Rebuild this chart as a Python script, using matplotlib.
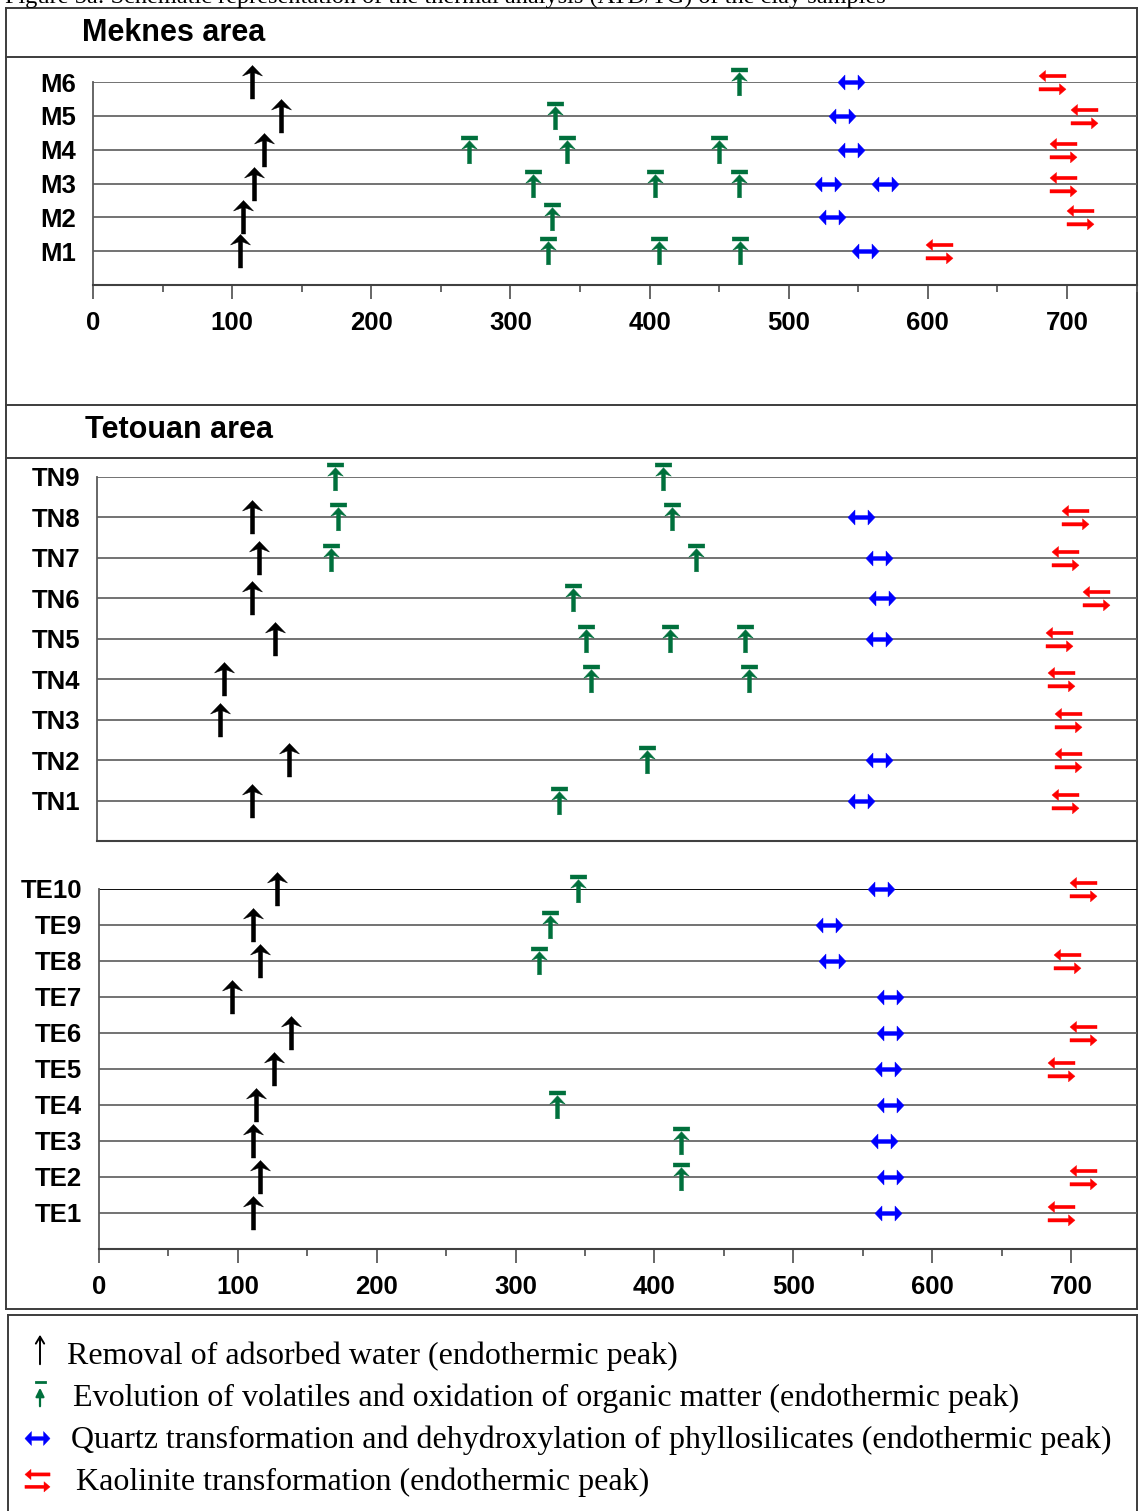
import numpy as np
import matplotlib.pyplot as plt
from matplotlib.path import Path
from matplotlib.ticker import MultipleLocator

W, H = 1139, 1511
DPI = 100

# DTA/TG peak temperatures (deg C) per sample, one list per peak type
meknes_samples = ['M1', 'M2', 'M3', 'M4', 'M5', 'M6']
meknes_water = [[106], [108], [116], [123], [135], [114]]
meknes_volatiles = [[327, 407, 465], [330], [316, 404, 464], [270, 341, 450], [332], [464]]
meknes_quartz = [[555], [531], [528, 569], [545], [538], [545]]
meknes_kaolinite = [[608], [709], [697], [697], [712], [689]]

tn_samples = ['TN1', 'TN2', 'TN3', 'TN4', 'TN5', 'TN6', 'TN7', 'TN8', 'TN9']
tn_water = [[110], [137], [87], [90], [127], [110], [115], [110], []]
tn_volatiles = [[331], [395], [], [354, 468], [351, 411, 465], [341], [167, 430], [172, 413], [170, 406]]
tn_quartz = [[549], [562], [], [], [562], [564], [562], [549], []]
tn_kaolinite = [[696], [698], [698], [693], [691], [718], [696], [703], []]

te_samples = ['TE1', 'TE2', 'TE3', 'TE4', 'TE5', 'TE6', 'TE7', 'TE8', 'TE9', 'TE10']
te_water = [[111], [116], [111], [113], [126], [138], [96], [116], [111], [128]]
te_volatiles = [[], [419], [419], [330], [], [], [], [317], [325], [345]]
te_quartz = [[568], [570], [565], [570], [568], [570], [570], [528], [526], [563]]
te_kaolinite = [[693], [709], [], [], [693], [709], [], [697], [], [709]]

legend_labels = [
    'Removal of adsorbed water (endothermic peak)',
    'Evolution of volatiles and oxidation of organic matter (endothermic peak)',
    'Quartz transformation and dehydroxylation of phyllosilicates (endothermic peak)',
    'Kaolinite transformation (endothermic peak)',
]

GREEN = '#00703c'
BLUE = '#0000ff'
RED = '#ff0000'
LINE = '#5a5a5a'
SANS = 'Liberation Sans'
SERIF = 'Liberation Serif'


def poly_path(*polys):
    verts, codes = [], []
    for p in polys:
        verts += list(p) + [p[0]]
        codes += [Path.MOVETO] + [Path.LINETO] * (len(p) - 1) + [Path.CLOSEPOLY]
    return Path(verts, codes)


# marker outlines in pixel units, origin on the sample line
water_path = poly_path([(0, 17), (10, 6.5), (2.1, 9.5), (2.1, -16.5), (-2.1, -16.5), (-2.1, 9.5), (-10, 6.5)])
volatile_path = poly_path(
    [(-8.3, 14.5), (8.3, 14.5), (8.3, 10.5), (-8.3, 10.5)],
    [(0, 9.8), (7.8, 1.3), (2, 3.3), (2, -13.3), (-2, -13.3), (-2, 3.3), (-7.8, 1.3)])
quartz_path = poly_path([(-13.5, 0), (-6.5, 7.5), (-6.5, 2), (6.5, 2), (6.5, 7.5), (13.5, 0),
                         (6.5, -7.5), (6.5, -2), (-6.5, -2), (-6.5, -7.5)])
kaolinite_path = poly_path(
    [(-13.5, 6.5), (-7, 12), (-7, 8.2), (13.5, 8.2), (13.5, 4.8), (-7, 4.8), (-7, 1)],
    [(13.5, -6.8), (7, -1.3), (7, -5.1), (-13.5, -5.1), (-13.5, -8.5), (7, -8.5), (7, -12.3)])


def ms_of(path, scale=1.0):
    # markersize in points so that the path keeps its pixel size
    return 2 * np.abs(path.vertices).max() * scale * 72 / DPI


MARKERS = [(water_path, 'black'), (volatile_path, GREEN), (quartz_path, BLUE), (kaolinite_path, RED)]


def px_axes(fig, left, top, right, bottom):
    return fig.add_axes([left / W, 1 - bottom / H, (right - left) / W, (bottom - top) / H])


def draw_panel(ax, samples, series, x0_px, scale, left_px, right_px, show_ticks):
    n = len(samples)
    rows = np.arange(1, n + 1)
    ax.set_xlim(-(x0_px - left_px) / scale, (right_px - x0_px) / scale)
    ax.set_ylim(0, n)
    ax.set_facecolor('none')
    for r in rows:
        ax.axhline(r, color=LINE, lw=1.2, zorder=1)
    for vals, (path, color) in zip(series, MARKERS):
        xs = [v for row in vals for v in row]
        ys = [r for r, row in zip(rows, vals) for _ in row]
        ax.plot(xs, ys, ls='none', marker=path, ms=ms_of(path), color=color,
                mec=color, mew=0.3, clip_on=False, zorder=3)
    ax.set_yticks(rows)
    ax.set_yticklabels(samples, fontsize=18.5, fontweight='bold', family=SANS)
    ax.tick_params(axis='y', length=0, pad=12)
    for s in ('top', 'right'):
        ax.spines[s].set_visible(False)
    ax.spines['left'].set_color(LINE)
    ax.spines['left'].set_linewidth(1.3)
    ax.spines['bottom'].set_color('#404040')
    ax.spines['bottom'].set_linewidth(1.5)
    if show_ticks:
        ax.xaxis.set_major_locator(MultipleLocator(100))
        ax.xaxis.set_minor_locator(MultipleLocator(50))
        ax.tick_params(axis='x', which='major', length=10, width=1.3, color=LINE,
                       pad=8.5, labelsize=18.5)
        ax.tick_params(axis='x', which='minor', length=5, width=1.3, color=LINE)
        ax.set_xticks([t for t in range(0, 701, 100)])
        for lab in ax.get_xticklabels():
            lab.set_fontweight('bold')
            lab.set_family(SANS)
    else:
        ax.set_xticks([])


fig = plt.figure(figsize=(W / DPI, H / DPI), dpi=DPI)

# frame, headers and legend drawn in pixel coordinates
bg = fig.add_axes([0, 0, 1, 1], zorder=0)
bg.set_xlim(0, W)
bg.set_ylim(H, 0)
bg.axis('off')

frame = dict(color='#3c3c3c', lw=1.4)
bg.plot([6, 1137], [8, 8], **frame)
bg.plot([6, 1137], [57, 57], **frame)
bg.plot([6, 1137], [405, 405], **frame)
bg.plot([6, 1137], [458, 458], **frame)
bg.plot([6, 1137], [1309, 1309], **frame)
bg.plot([6, 6], [8, 1309], **frame)
bg.plot([1137, 1137], [8, 1309], **frame)
bg.plot([8, 1137], [1315, 1315], **frame)
bg.plot([8, 8], [1315, 1511], **frame)
bg.plot([1137, 1137], [1315, 1511], **frame)

bg.text(5, 2.5, 'Figure 5a: Schematic representation of the thermal analysis (ATD/TG) of the clay samples',
        fontsize=17.5, family=SERIF, va='baseline', ha='left')
bg.text(82, 33, 'Meknes area', fontsize=22, fontweight='bold', family=SANS, va='center')
bg.text(85, 430, 'Tetouan area', fontsize=22, fontweight='bold', family=SANS, va='center')

# legend
bg.annotate('', xy=(40, 1332), xytext=(40, 1367),
            arrowprops=dict(arrowstyle='->,head_length=0.5,head_width=0.3', lw=1.4, color='black'))
bg.plot([35.5, 44.5], [1382, 1382], color=GREEN, lw=2)
bg.annotate('', xy=(40, 1385), xytext=(40, 1409),
            arrowprops=dict(arrowstyle='-|>,head_length=0.5,head_width=0.25', lw=1.6, color=GREEN))
bg.plot([36.5], [1438], ls='none', marker=quartz_path, ms=ms_of(quartz_path, 0.93),
        color=BLUE, mew=0.3)
bg.plot([36.5], [1480], ls='none', marker=kaolinite_path, ms=ms_of(kaolinite_path, 0.93),
        color=RED, mew=0.3)
for (tx, ty), label in zip([(67, 1356), (73, 1398), (71, 1440), (76, 1482)], legend_labels):
    bg.text(tx, ty, label, fontsize=23, family=SERIF, va='center', ha='left')

ax_m = px_axes(fig, 93, 82, 1137, 285)
draw_panel(ax_m, meknes_samples, [meknes_water, meknes_volatiles, meknes_quartz, meknes_kaolinite],
           93, (1067 - 93) / 700, 93, 1137, True)

ax_tn = px_axes(fig, 97, 477, 1137, 841)
draw_panel(ax_tn, tn_samples, [tn_water, tn_volatiles, tn_quartz, tn_kaolinite],
           99, (1071 - 99) / 700, 97, 1137, False)

ax_te = px_axes(fig, 99, 889, 1137, 1249)
draw_panel(ax_te, te_samples, [te_water, te_volatiles, te_quartz, te_kaolinite],
           99, (1071 - 99) / 700, 99, 1137, True)
ax_te.axhline(10, color='black', lw=1.2, zorder=1)

fig.savefig('out.png', dpi=DPI)
